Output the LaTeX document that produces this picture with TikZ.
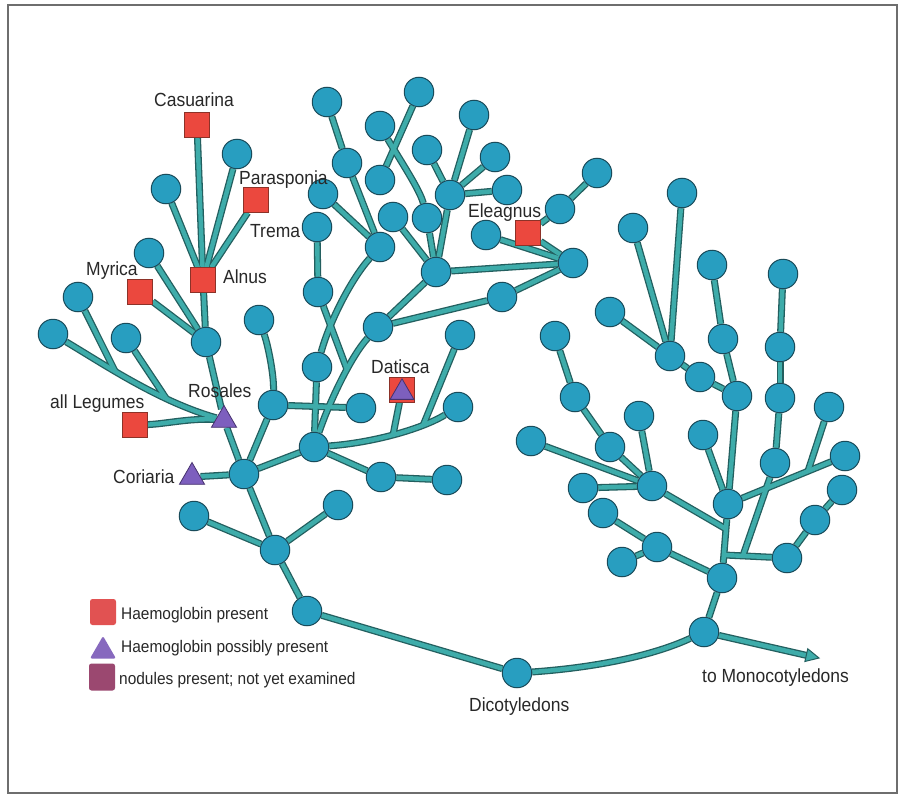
\documentclass[tikz,border=0pt]{standalone}
\usepackage{fontspec}
\setmainfont{Liberation Sans}
\newfontfamily\lblfont{Liberation Sans}[FakeStretch=0.92]
\usetikzlibrary{shapes.geometric}
\pgfdeclarelayer{paper}
\pgfdeclarelayer{bg}
\pgfsetlayers{paper,bg,main}
\definecolor{nodeblue}{RGB}{40,158,192}
\definecolor{nodeedge}{RGB}{25,75,90}
\definecolor{brdark}{RGB}{35,95,95}
\definecolor{brlight}{RGB}{62,172,170}
\definecolor{hred}{RGB}{235,72,62}
\definecolor{hredge}{RGB}{140,50,40}
\definecolor{hpurple}{RGB}{125,95,190}
\definecolor{purpedge}{RGB}{70,50,110}
\definecolor{legred}{RGB}{225,82,82}
\definecolor{legtri}{RGB}{135,105,190}
\definecolor{legpurple}{RGB}{155,72,112}
\definecolor{txt}{RGB}{40,40,40}
\definecolor{framegray}{RGB}{110,110,110}

\newcommand\branchlist{%
 % trunk
 \draw[br] (c17) -- (dic);
 \draw[br] (dic) .. controls (590,668) and (650,657) .. (c18);
 \draw[br] (c18) -- (monob);
 \draw[br] (c18) -- (r30);
 \draw[br] (c17) -- (c16);
 \draw[br] (c16) -- (c14);
 \draw[br] (c16) -- (c15);
 \draw[br] (c16) -- (c11);
 % Rosales group
 \draw[br] (c11) -- (cor);
 \draw[br] (c11) -- (ros);
 \draw[br] (ros) -- (c7);
 \draw[br] (ros) .. controls (190,418) and (165,424) .. (leg);
 \draw[br] (c5) .. controls (105,365) and (160,402) .. (ros)
   coordinate[pos=0.37] (j1) coordinate[pos=0.7] (j2);
 \draw[br] (c4) -- (j1);
 \draw[br] (c6) -- (j2);
 \draw[br] (c7) -- (alnus);
 \draw[br] (c7) -- (myr);
 \draw[br] (c7) -- (c3);
 \draw[br] (alnus) -- (cas);
 \draw[br] (alnus) -- (c1);
 \draw[br] (alnus) -- (para);
 \draw[br] (alnus) -- (c2);
 % middle
 \draw[br] (c11) -- (c9);
 \draw[br] (c9) -- (c10);
 \draw[br] (c8) .. controls (268,345) and (274,375) .. (c9);
 \draw[br] (c11) -- (hub);
 \draw[br] (hub) -- (c20);
 \draw[br] (c20) .. controls (330,320) and (352,278) .. (c25);
 \draw[br] (hub) .. controls (330,400) and (352,355) .. (c21)
   coordinate[pos=0.6] (j3);
 \draw[br] (c22) -- (j3);
 \draw[br] (c22) -- (c23);
 \draw[br] (c25) -- (c24);
 \draw[br] (c25) -- (c26);
 \draw[br] (c26) -- (c27);
 \draw[br] (c31) -- (c30);
 \draw[br] (c28) .. controls (400,160) and (420,190) .. (c29);
 \draw[br] (c29) -- (c33);
 \draw[br] (c32) -- (c33);
 \draw[br] (c34) -- (c33);
 \draw[br] (c34) -- (c35);
 \draw[br] (c34) -- (c36);
 \draw[br] (c34) -- (c37);
 \draw[br] (c34) -- (c38);
 \draw[br] (c33) -- (c21);
 \draw[br] (c33) -- (c42);
 \draw[br] (c21) -- (c43);
 \draw[br] (c43) -- (c42);
 \draw[br] (c42) -- (c39);
 \draw[br] (c42) -- (ele);
 \draw[br] (ele) -- (c40);
 \draw[br] (c40) -- (c41);
 \draw[br] (hub) .. controls (370,443) and (420,430) .. (c45)
   coordinate[pos=0.5] (jd) coordinate[pos=0.76] (je);
 \draw[br] (jd) -- (dat);
 \draw[br] (je) -- (c44);
 \draw[br] (hub) -- (c12);
 \draw[br] (c12) -- (c13);
 % right cluster
 \draw[br] (r30) -- (r22);
 \draw[br] (jR2) -- (r29);
 \draw[br] (jR3) -- (r21);
 \draw[br] (r17) -- (jR1);
 \draw[br] (r17) -- (r18);
 \draw[br] (r17) -- (r15);
 \draw[br] (r17) -- (r14);
 \draw[br] (r17) -- (r16);
 \draw[br] (r15) -- (r13);
 \draw[br] (r13) -- (r12);
 \draw[br] (r30) -- (r27);
 \draw[br] (r27) -- (r26);
 \draw[br] (r27) -- (r28);
 \draw[br] (r29) -- (r25);
 \draw[br] (r25) -- (r24);
 \draw[br] (r22) -- (r19);
 \draw[br] (r22) -- (r9);
 \draw[br] (r22) -- (r23);
 \draw[br] (jR4) -- (r20);
 \draw[br] (r21) -- (r11);
 \draw[br] (r11) -- (r10);
 \draw[br] (r10) -- (r4);
 \draw[br] (r9) -- (r7);
 \draw[br] (r7) -- (r3);
 \draw[br] (r9) -- (r8);
 \draw[br] (r8) -- (r6);
 \draw[br] (r6) -- (r5);
 \draw[br] (r6) -- (r2);
 \draw[br] (r6) -- (r1);
}

\begin{document}
\begin{tikzpicture}[x=1bp,y=-1bp,
  cnode/.style={circle,minimum size=29.5bp,inner sep=0pt,fill=nodeblue,draw=nodeedge,line width=1bp},
  sqnode/.style={rectangle,minimum size=24.5bp,inner sep=0pt,fill=hred,draw=hredge,line width=0.8bp},
  trinode/.style={regular polygon,regular polygon sides=3,minimum size=29bp,inner sep=0pt,fill=hpurple,draw=purpedge,line width=0.8bp},
  lbl/.style={font=\lblfont\fontsize{19bp}{22bp}\selectfont,text=txt,inner sep=0pt,anchor=base west},
  leglbl/.style={font=\lblfont\fontsize{16.8bp}{20bp}\selectfont,text=txt,inner sep=0pt,anchor=base west},
  frame/.style={draw=framegray,line width=1.5bp}]
\useasboundingbox (0,0) rectangle (899,796);
\begin{pgfonlayer}{paper}
\fill[white] (0,0) rectangle (899,796);
\end{pgfonlayer}
\draw[frame] (8,5) rectangle (897,793);

% ---- left group
\node[sqnode] (cas) at (197,125) {};
\node[cnode] (c1) at (237,154) {};
\node[sqnode] (para) at (256,200) {};
\node[cnode] (c2) at (166,189) {};
\node[sqnode] (alnus) at (203,280) {};
\node[sqnode] (myr) at (140,292) {};
\node[cnode] (c3) at (149,253) {};
\node[cnode] (c4) at (78,297) {};
\node[cnode] (c5) at (53,334) {};
\node[cnode] (c6) at (126,338) {};
\node[cnode] (c7) at (206,342) {};
\node[cnode] (c8) at (259,320) {};
\node[trinode] (ros) at (224,420) {};
\node[sqnode] (leg) at (135,425) {};
\node[cnode] (c9) at (273,405) {};
\node[cnode] (c10) at (361,408) {};
\node[trinode] (cor) at (192,477) {};
\node[cnode] (c11) at (244,474) {};
\node[cnode] (hub) at (314,447) {};
\node[cnode] (c12) at (381,477) {};
\node[cnode] (c13) at (447,480) {};
\node[cnode] (c14) at (194,516) {};
\node[cnode] (c15) at (338,505) {};
\node[cnode] (c16) at (275,550) {};
\node[cnode] (c17) at (307,611) {};
\node[cnode] (dic) at (517,673) {};
\node[cnode] (c18) at (704,632) {};
\coordinate (monob) at (807,655.5);
\coordinate (mono) at (819,658);

% ---- middle group
\node[cnode] (c20) at (317,367) {};
\node[cnode] (c21) at (378,327) {};
\node[cnode] (c22) at (318,292) {};
\node[cnode] (c23) at (317,227) {};
\node[cnode] (c24) at (323,194) {};
\node[cnode] (c25) at (380,247) {};
\node[cnode] (c26) at (347,163) {};
\node[cnode] (c27) at (327,102) {};
\node[cnode] (c28) at (380,126) {};
\node[cnode] (c29) at (427,218) {};
\node[cnode] (c30) at (419,92) {};
\node[cnode] (c31) at (380,180) {};
\node[cnode] (c32) at (393,217) {};
\node[cnode] (c33) at (436,272) {};
\node[cnode] (c34) at (450,195) {};
\node[cnode] (c35) at (427,150) {};
\node[cnode] (c36) at (474,115) {};
\node[cnode] (c37) at (495,157) {};
\node[cnode] (c38) at (507,190) {};
\node[cnode] (c39) at (486,235) {};
\node[sqnode] (ele) at (528,233) {};
\node[cnode] (c40) at (560,209) {};
\node[cnode] (c41) at (597,173) {};
\node[cnode] (c42) at (573,263) {};
\node[cnode] (c43) at (502,297) {};
\node[sqnode] (dat) at (402,390) {};
\node[trinode,minimum size=27.5bp] (dattri) at (402,392.5) {};
\node[cnode] (c44) at (460,335) {};
\node[cnode] (c45) at (458,407) {};

% ---- right group
\node[cnode] (r1) at (682,193) {};
\node[cnode] (r2) at (633,228) {};
\node[cnode] (r3) at (712,265) {};
\node[cnode] (r4) at (783,274) {};
\node[cnode] (r5) at (610,312) {};
\node[cnode] (r6) at (670,356) {};
\node[cnode] (r7) at (723,339) {};
\node[cnode] (r8) at (700,377) {};
\node[cnode] (r9) at (737,396) {};
\node[cnode] (r10) at (780,347) {};
\node[cnode] (r11) at (780,398) {};
\node[cnode] (r12) at (555,336) {};
\node[cnode] (r13) at (575,397) {};
\node[cnode] (r14) at (639,416) {};
\node[cnode] (r15) at (610,447) {};
\node[cnode] (r16) at (531,441) {};
\node[cnode] (r17) at (652,486) {};
\node[cnode] (r18) at (583,488) {};
\node[cnode] (r19) at (703,435) {};
\node[cnode] (r20) at (829,407) {};
\node[cnode] (r21) at (775,463) {};
\node[cnode] (r22) at (728,504) {};
\node[cnode] (r23) at (845,456) {};
\node[cnode] (r24) at (842,490) {};
\node[cnode] (r25) at (815,520) {};
\node[cnode] (r26) at (603,513) {};
\node[cnode] (r27) at (657,547) {};
\node[cnode] (r28) at (622,562) {};
\node[cnode] (r29) at (787,558) {};
\node[cnode] (r30) at (722,578) {};
\coordinate (jR1) at (726,529);
\coordinate (jR2) at (724.5,555);
\coordinate (jR3) at (743,555.5);
\coordinate (jR4) at (808,471);

% ---- branches (two passes: dark edge, light core)
\begin{pgfonlayer}{bg}
 \begin{scope}[br/.style={line width=7bp,draw=brdark}]
  \branchlist
 \end{scope}
 \begin{scope}[br/.style={line width=4.4bp,draw=brlight}]
  \branchlist
 \end{scope}
\end{pgfonlayer}
% arrow head to monocotyledons
\filldraw[fill=brlight,draw=brdark,line width=1bp,shift={(mono)},rotate=-12.7]
  (0,0) -- (-13,-6.5) -- (-13,6.5) -- cycle;

% ---- labels
\node[lbl] (tcas) at (154,106.5) {Casuarina};
\node[lbl] (tpara) at (239,184) {Parasponia};
\node[lbl] (ttrema) at (250,237) {Trema};
\node[lbl] (talnus) at (223,283) {Alnus};
\node[lbl] (tmyr) at (86,275) {Myrica};
\node[lbl] (tros) at (188,397) {Rosales};
\node[lbl] (tleg) at (50,408) {all Legumes};
\node[lbl] (tcor) at (113,483) {Coriaria};
\node[lbl] (tdat) at (371,373) {Datisca};
\node[lbl] (tele) at (468,217) {Eleagnus};
\node[lbl] (tdic) at (469,711) {Dicotyledons};
\node[lbl] (tmono) at (702,682) {to Monocotyledons};

% ---- legend
\node[rectangle,rounded corners=2.5bp,minimum width=26bp,minimum height=26bp,inner sep=0pt,fill=legred] (lg1) at (103,612) {};
\node[regular polygon,regular polygon sides=3,minimum size=30bp,inner sep=0pt,fill=legtri,rounded corners=2bp] (lg2) at (103,651) {};
\node[rectangle,rounded corners=2.5bp,minimum width=26bp,minimum height=27bp,inner sep=0pt,fill=legpurple] (lg3) at (102,677) {};
\node[leglbl] (lt1) at (121,619) {Haemoglobin present};
\node[leglbl] (lt2) at (121,652) {Haemoglobin possibly present};
\node[leglbl] (lt3) at (119,684) {nodules present; not yet examined};
\end{tikzpicture}
\end{document}
